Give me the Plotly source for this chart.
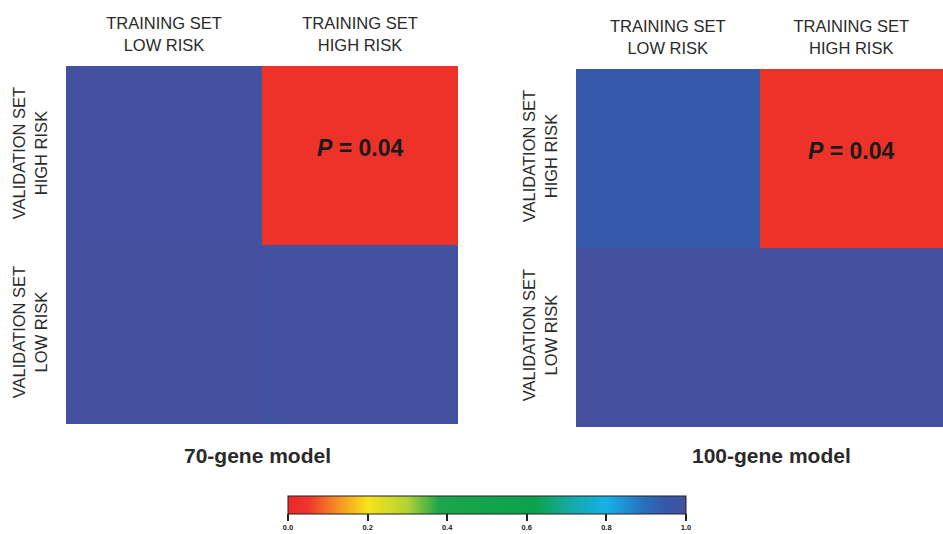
import plotly.graph_objects as go

# ---- data ----
col_labels = ["TRAINING SET<br>LOW RISK", "TRAINING SET<br>HIGH RISK"]
row_labels = ["VALIDATION SET<br>HIGH RISK", "VALIDATION SET<br>LOW RISK"]
z_70 = [[0.995, 0.04],
        [1.00, 0.99]]
z_100 = [[0.95, 0.04],
         [1.00, 1.00]]
model_names = ["70-gene model", "100-gene model"]
p_values = ["0.04", "0.04"]
cbar_ticks = [0.0, 0.2, 0.4, 0.6, 0.8, 1.0]
cbar_ticktext = ["0.0", "0.2", "0.4", "0.6", "0.8", "1.0"]

W, H = 943, 534
def px_x(v):
    return v / W
def px_y(v):
    return 1 - v / H

colorscale = [
    [0.0, "#ea2a2a"],
    [0.05, "#ee3429"],
    [0.12, "#f58a22"],
    [0.2, "#f8e41a"],
    [0.3, "#b3d235"],
    [0.38, "#1ba64b"],
    [0.62, "#0ba24c"],
    [0.7, "#14a99c"],
    [0.8, "#16b0e8"],
    [0.9, "#2a6cb8"],
    [0.95, "#3558a8"],
    [1.0, "#45509f"],
]

fig = go.Figure()
fig.add_trace(go.Heatmap(
    z=z_70, x=col_labels, y=row_labels, xaxis="x", yaxis="y",
    colorscale=colorscale, zmin=0, zmax=1, showscale=False, hoverinfo="skip"))
fig.add_trace(go.Heatmap(
    z=z_100, x=col_labels, y=row_labels, xaxis="x2", yaxis="y2",
    colorscale=colorscale, zmin=0, zmax=1, hoverinfo="skip",
    colorbar=dict(
        orientation="h", lenmode="pixels", len=398, thickness=18,
        x=px_x(487), xanchor="center", y=px_y(496), yanchor="top",
        xpad=0, ypad=0, outlinewidth=1, outlinecolor="#222",
        tickvals=cbar_ticks, ticktext=cbar_ticktext,
        ticks="outside", ticklen=7, tickwidth=2, tickcolor="#222",
        tickfont=dict(family="Liberation Sans", size=7.5, color="#222", weight="bold"),
    )))

tickfont = dict(family="Liberation Sans", size=16.5, color="#2a2a2a")
xcommon = dict(side="top", showgrid=False, zeroline=False, showline=False,
               ticks="", tickfont=tickfont, fixedrange=True, automargin=False,
               ticklabelstandoff=11)
ycommon = dict(showgrid=False, zeroline=False, showline=False, ticks="",
               tickangle=-90, tickfont=tickfont, autorange="reversed",
               fixedrange=True, automargin=False, ticklabelstandoff=15)

fig.update_layout(
    width=W, height=H,
    margin=dict(l=0, r=0, t=0, b=0, autoexpand=False),
    paper_bgcolor="white", plot_bgcolor="white",
    font=dict(family="Liberation Sans"),
    xaxis=dict(domain=[px_x(66), px_x(458)], anchor="y", **xcommon),
    yaxis=dict(domain=[px_y(424), px_y(66)], anchor="x", **ycommon),
    xaxis2=dict(domain=[px_x(576), 1.0], anchor="y2", **xcommon),
    yaxis2=dict(domain=[px_y(427), px_y(69)], anchor="x2", **ycommon),
)

# P-value annotations in the high/high cell
for xa, ya, p in [("x", "y", p_values[0]), ("x2", "y2", p_values[1])]:
    fig.add_annotation(x=col_labels[1], y=row_labels[0], xref=xa, yref=ya,
                       text=f"<b><i>P</i> = {p}</b>", showarrow=False, yshift=8,
                       font=dict(family="Liberation Sans", size=23, color="#1a1a1a"))

# model titles below each panel
for xc, name in [(257, model_names[0]), (771, model_names[1])]:
    fig.add_annotation(x=px_x(xc), y=px_y(455), xref="paper", yref="paper",
                       text=f"<b>{name}</b>", showarrow=False,
                       xanchor="center", yanchor="middle",
                       font=dict(family="Liberation Sans", size=21, color="#2a2a2a"))

fig.write_html(
    "out.html",
    config={"displayModeBar": False, "staticPlot": True},
    post_script="document.body.style.margin='0';document.body.style.overflow='hidden';",
)
